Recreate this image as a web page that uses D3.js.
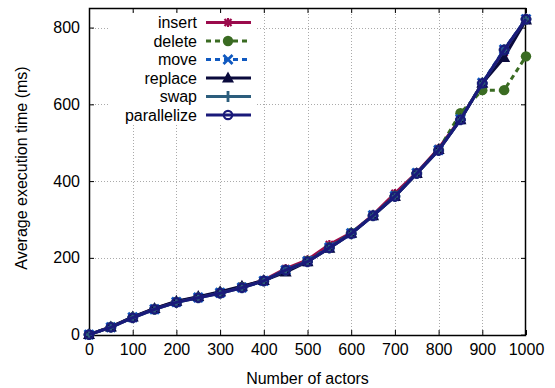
<!DOCTYPE html>
<html>
<head>
<meta charset="utf-8">
<script src="https://cdn.jsdelivr.net/npm/d3@7"></script>
<style>
  body { margin: 0; background: #fff; }
  text { font-family: "Liberation Sans", Arial, sans-serif; }
</style>
</head>
<body>
<svg id="chart" width="555" height="388"></svg>
<script>
// data
const actors = [0, 50, 100, 150, 200, 250, 300, 350, 400, 450, 500, 550, 600, 650, 700, 750, 800, 850, 900, 950, 1000];
const insert = [0, 20, 45, 68, 86, 98, 110, 125, 142, 172, 195, 235, 265, 312, 368, 422, 485, 562, 655, 735, 822];
const del = [0, 20, 45, 66, 85, 97, 110, 124, 140, 168, 192, 228, 265, 310, 362, 420, 482, 577, 637, 637, 725];
const move = [0, 19, 45, 66, 85, 97, 109, 123, 140, 168, 191, 227, 264, 311, 361, 421, 481, 561, 656, 743, 822];
const replace = [0, 20, 46, 68, 87, 99, 112, 126, 141, 163, 190, 225, 264, 310, 360, 420, 482, 560, 655, 722, 820];
const swap = [0, 19, 44, 66, 84, 96, 108, 122, 140, 168, 190, 226, 263, 310, 360, 420, 480, 560, 655, 742, 822];
const parallelize = [0, 19, 44, 66, 84, 96, 108, 122, 140, 168, 190, 226, 263, 310, 360, 420, 480, 560, 655, 742, 822];
const xTicks = [0, 100, 200, 300, 400, 500, 600, 700, 800, 900, 1000];
const yTicks = [0, 200, 400, 600, 800];

const series = [
  { name: "insert", values: insert, color: "#9b0b4c", dash: null, marker: "star" },
  { name: "delete", values: del, color: "#3a6b22", dash: "5,4", marker: "dot" },
  { name: "move", values: move, color: "#1059c0", dash: "5,4", marker: "cross" },
  { name: "replace", values: replace, color: "#0a0a3c", dash: null, marker: "tri" },
  { name: "swap", values: swap, color: "#2c5d7c", dash: null, marker: "plus" },
  { name: "parallelize", values: parallelize, color: "#1a1a7a", dash: null, marker: "circle" }
];

const mLeft = 89, mRight = 526, mTop = 8, mBottom = 335;
const svg = d3.select("#chart");

const x = d3.scaleLinear().domain([0, 1000]).range([mLeft, mRight]);
const y = d3.scaleLinear().domain([-1, 851]).range([mBottom, mTop]);

// grid
const grid = svg.append("g").attr("stroke", "#aaa").attr("stroke-width", 1).attr("stroke-dasharray", "1,2");
grid.selectAll(".gx").data(xTicks.slice(1, -1)).enter().append("line")
  .attr("x1", d => Math.round(x(d)) + 0.5).attr("x2", d => Math.round(x(d)) + 0.5)
  .attr("y1", mTop).attr("y2", mBottom);
grid.selectAll(".gy").data(yTicks.slice(1)).enter().append("line")
  .attr("y1", d => Math.round(y(d)) + 0.5).attr("y2", d => Math.round(y(d)) + 0.5)
  .attr("x1", mLeft).attr("x2", mRight);

// axes (ticks inward, mirrored)
const fs = "16px";
const axB = svg.append("g").attr("transform", `translate(0,${mBottom})`)
  .call(d3.axisBottom(x).tickValues(xTicks).tickSize(-5).tickPadding(9).tickFormat(d3.format("d")));
const axL = svg.append("g").attr("transform", `translate(${mLeft},0)`)
  .call(d3.axisLeft(y).tickValues(yTicks).tickSize(-5).tickPadding(9));
const axT = svg.append("g").attr("transform", `translate(0,${mTop})`)
  .call(d3.axisTop(x).tickValues(xTicks).tickSize(-5).tickFormat(""));
const axR = svg.append("g").attr("transform", `translate(${mRight},0)`)
  .call(d3.axisRight(y).tickValues(yTicks).tickSize(-5).tickFormat(""));
[axB, axL, axT, axR].forEach(a => {
  a.select(".domain").remove();
  a.selectAll("text").style("font-size", fs).attr("fill", "#000");
  a.selectAll("line").attr("stroke", "#000");
});

// frame
svg.append("rect").attr("x", mLeft + 0.5).attr("y", mTop + 0.5)
  .attr("width", mRight - mLeft - 1).attr("height", mBottom - mTop)
  .attr("fill", "none").attr("stroke", "#000").attr("stroke-width", 1.5);

// legend background
svg.append("rect").attr("x", 108).attr("y", 14).attr("width", 148).attr("height", 110).attr("fill", "#fff");

function marker(g, type, color) {
  if (type === "star") {
    g.append("path").attr("d", "M-4.5,0H4.5M0,-4.5V4.5M-3.5,-3.5L3.5,3.5M-3.5,3.5L3.5,-3.5").attr("stroke", color).attr("stroke-width", 2.2).attr("fill", "none");
  } else if (type === "dot") {
    g.append("circle").attr("r", 5.2).attr("fill", color);
  } else if (type === "cross") {
    g.append("path").attr("d", "M-4.5,-4.5L4.5,4.5M-4.5,4.5L4.5,-4.5").attr("stroke", color).attr("stroke-width", 2.8).attr("fill", "none");
  } else if (type === "tri") {
    g.append("path").attr("d", "M0,-6.5L6,4.5H-6Z").attr("fill", color);
  } else if (type === "plus") {
    g.append("path").attr("d", "M-5.5,0H5.5M0,-5.5V5.5").attr("stroke", color).attr("stroke-width", 2.8).attr("fill", "none");
  } else if (type === "circle") {
    g.append("circle").attr("r", 4.2).attr("fill", "none").attr("stroke", color).attr("stroke-width", 2.2);
  }
}

const line = d3.line().x((d, i) => x(actors[i])).y(d => y(d));

series.forEach(s => {
  svg.append("path").datum(s.values).attr("d", line)
    .attr("fill", "none").attr("stroke", s.color).attr("stroke-width", 3)
    .attr("stroke-dasharray", s.dash);
  s.values.forEach((v, i) => {
    const g = svg.append("g").attr("transform", `translate(${x(actors[i])},${y(v)})`);
    marker(g, s.marker, s.color);
  });
});

// legend
series.forEach((s, i) => {
  const ly = 22.5 + i * 18.5;
  svg.append("text").attr("x", 197).attr("y", ly).attr("dy", "0.35em")
    .attr("text-anchor", "end").style("font-size", fs).text(s.name);
  svg.append("line").attr("x1", 206).attr("x2", 251).attr("y1", ly).attr("y2", ly)
    .attr("stroke", s.color).attr("stroke-width", 3).attr("stroke-dasharray", s.dash);
  marker(svg.append("g").attr("transform", `translate(228,${ly})`), s.marker, s.color);
});

// axis titles
svg.append("text").attr("x", (mLeft + mRight) / 2).attr("y", 384).attr("text-anchor", "middle")
  .style("font-size", "16px").text("Number of actors");
svg.append("text").attr("transform", "translate(27,168) rotate(-90)")
  .attr("text-anchor", "middle").style("font-size", "16px").text("Average execution time (ms)");
</script>
</body>
</html>
